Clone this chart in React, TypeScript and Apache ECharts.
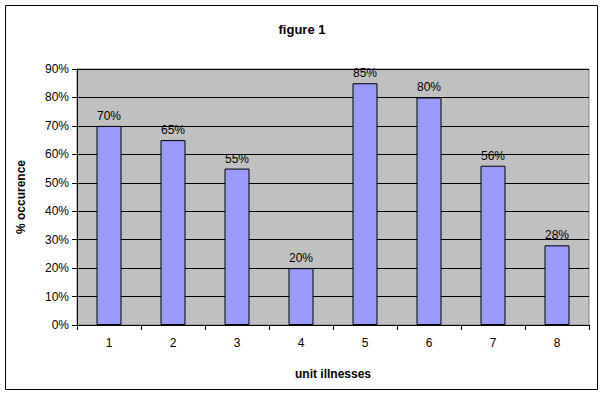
import React, { useEffect, useRef } from "react";
import * as echarts from "echarts";

const categories = ["1", "2", "3", "4", "5", "6", "7", "8"];
const values = [70, 65, 55, 20, 85, 80, 56, 28];
const yTicks = [0, 10, 20, 30, 40, 50, 60, 70, 80, 90];

export default function App() {
  const ref = useRef<HTMLDivElement>(null);
  useEffect(() => {
    const chart = echarts.init(ref.current!, null, { renderer: "svg" });
    const font = "Liberation Sans, Arial, sans-serif";
    chart.setOption({
      animation: false,
      backgroundColor: "#ffffff",
      textStyle: { fontFamily: font },
      title: {
        text: "figure 1",
        left: "center",
        top: 18,
        textStyle: { fontSize: 13, fontWeight: "bold", color: "#000", fontFamily: font },
      },
      graphic: [
        {
          type: "rect",
          shape: { x: 5.5, y: 5.5, width: 592, height: 384 },
          style: { fill: "none", stroke: "#000", lineWidth: 1 },
          silent: true,
        },
      ],
      grid: {
        left: 77,
        right: 15,
        top: 69,
        bottom: 70,
        show: true,
        backgroundColor: "#c0c0c0",
        borderColor: "#808080",
        borderWidth: 1,
      },
      xAxis: {
        type: "category",
        data: categories,
        name: "unit illnesses",
        nameLocation: "middle",
        nameGap: 43,
        nameTextStyle: { fontSize: 12, fontWeight: "bold", color: "#000", fontFamily: font },
        axisLine: { lineStyle: { color: "#000" } },
        axisTick: { show: true, length: 5, lineStyle: { color: "#000" } },
        axisLabel: { color: "#000", fontSize: 12, margin: 12, fontFamily: font },
      },
      yAxis: {
        type: "value",
        min: yTicks[0],
        max: yTicks[yTicks.length - 1],
        interval: 10,
        name: "% occurence",
        nameLocation: "middle",
        nameGap: 50,
        nameTextStyle: { fontSize: 12, fontWeight: "bold", color: "#000", fontFamily: font },
        axisLine: { show: true, lineStyle: { color: "#000" } },
        axisTick: { show: true, length: 5, lineStyle: { color: "#000" } },
        axisLabel: { color: "#000", fontSize: 12, margin: 8, formatter: "{value}%", fontFamily: font },
        splitLine: { show: true, lineStyle: { color: "#000", width: 1 } },
      },
      series: [
        {
          type: "bar",
          data: values,
          barWidth: 25,
          itemStyle: { color: "#9999ff", borderColor: "#000", borderWidth: 1 },
          label: {
            show: true,
            position: "top",
            distance: 4,
            formatter: "{c}%",
            color: "#000",
            fontSize: 12,
            fontFamily: font,
          },
        },
      ],
    });
    return () => chart.dispose();
  }, []);
  return <div ref={ref} style={{ width: 604, height: 395, position: "absolute", left: 0, top: 0 }} />;
}
